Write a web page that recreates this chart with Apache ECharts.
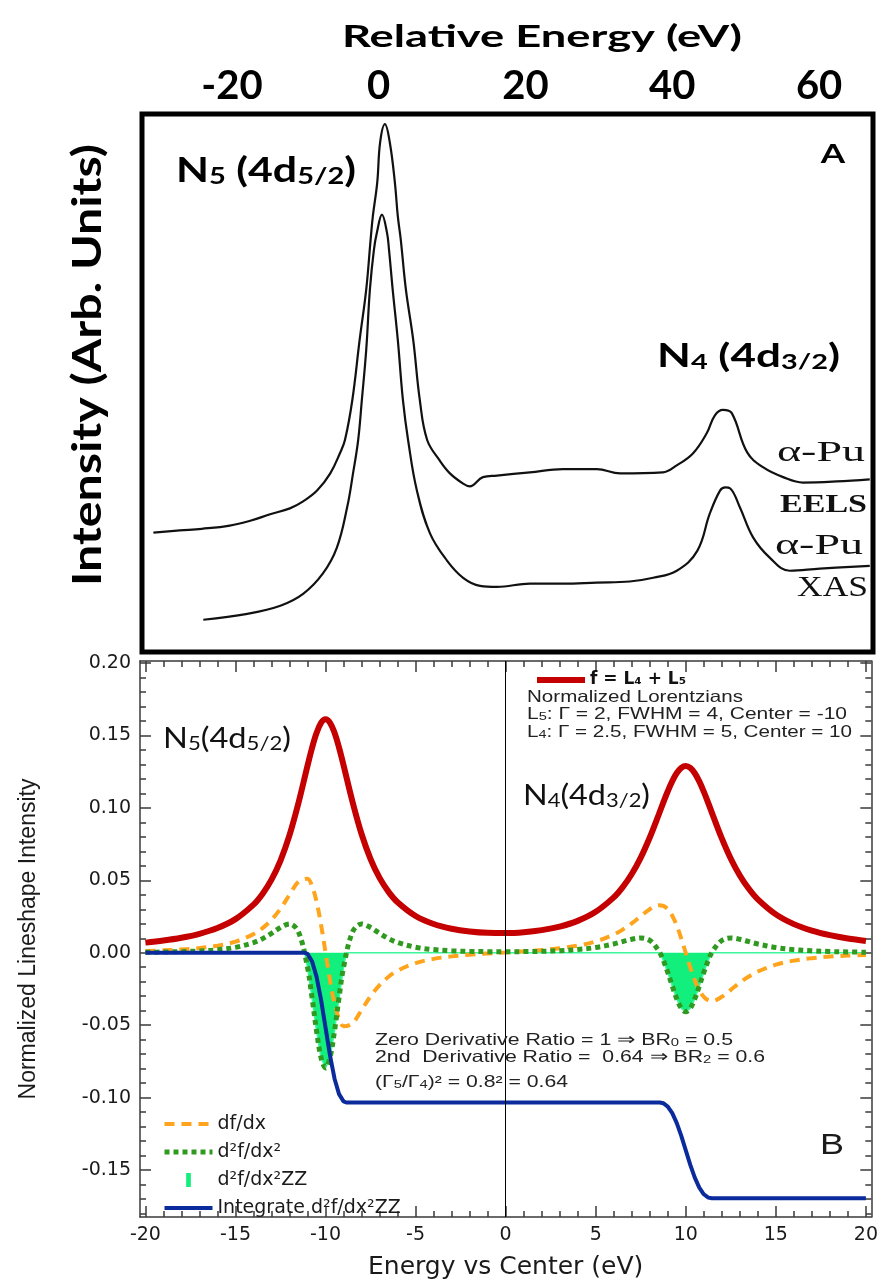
<!DOCTYPE html>
<html><head><meta charset="utf-8">
<script src="https://cdn.jsdelivr.net/npm/echarts@6/dist/echarts.min.js"></script>
<style>html,body{margin:0;padding:0;background:#fff}#c{width:881px;height:1281px}</style>
</head><body><div id="c"></div>
<script>
// ---------- Panel A (experimental spectra, relative energy in eV, arbitrary intensity) ----------
const eelsEnergy = [-30.7,-27.1,-24.1,-20.3,-17.5,-14.8,-12.1,-10.3,-8.4,-6.6,-5.3,-4.6,-3.6,-2.6,-1.7,-1.1,-0.8,-0.2,0.2,0.85,1.5,2.2,2.6,3.0,3.7,4.7,5.6,6.6,8.3,9.7,11.5,12.4,14.2,16.1,20.6,25.1,29.7,32.9,38.7,40.6,42.8,44.7,45.8,46.9,48.1,50.2,52.4,55.1,57.8,62.4,66.9];
const eelsIntensity = [22.2,22.6,22.9,23.5,24.4,25.6,26.7,28.0,30.0,33.2,36.9,39.4,46.8,58.0,67.4,76.7,81.0,87.3,94.8,98.1,94.8,87.3,81.0,76.7,67.4,58.0,46.8,39.4,35.6,33.2,31.3,30.8,32.5,32.8,33.4,34.0,34.0,33.2,33.4,34.7,36.9,40.7,44.0,45.0,44.4,37.1,34.3,32.5,31.5,31.7,32.1];
const xasEnergy = [-23.9,-17.9,-13.4,-10.3,-7.6,-5.7,-4.3,-3.5,-2.8,-2.3,-1.7,-1.2,-0.65,-0.24,0.44,1.12,1.4,1.9,2.6,3.3,4.0,5.2,7.0,9.3,11.5,13.8,16.1,20.6,25.1,29.7,34.2,37.4,40.6,43.4,45.1,46.5,47.2,47.9,49.2,51.0,53.3,56.0,60.1,66.9];
const xasIntensity = [6.0,7.1,8.6,10.8,14.6,19.4,26.9,33.2,39.4,46.8,56.2,67.4,74.8,78.0,81.3,78.0,74.8,67.4,58.0,46.8,39.4,30.0,22.0,17.0,13.8,12.3,12.1,12.7,12.7,12.9,13.1,13.8,15.1,18.8,25.7,30.0,30.6,30.4,26.9,21.3,17.5,15.1,15.5,16.0];
const topTicks = [-20,0,20,40,60];

// ---------- Panel B (model lineshapes) ----------
const energy = [-20,-19,-18,-17,-16,-15,-14,-13.5,-13,-12.5,-12,-11.5,-11,-10.75,-10.5,-10.25,-10,-9.75,-9.5,-9.25,-9,-8.5,-8,-7.5,-7,-6.5,-6,-5,-4,-3,-2,-1,0,1,2,3,4,5,6,6.5,7,7.5,8,8.5,8.75,9,9.25,9.5,9.75,10,10.25,10.5,10.75,11,11.25,11.5,12,12.5,13,13.5,14,15,16,17,18,19,20];
const fSum = [0.00700,0.00843,0.01037,0.01309,0.01708,0.02321,0.03320,0.04060,0.05046,0.06366,
0.08120,0.10356,0.12910,0.14135,0.15166,0.15862,0.16111,0.15872,0.15185,0.14164,
0.12949,0.10414,0.08199,0.06466,0.05167,0.04203,0.03487,0.02539,0.01985,0.01655,
0.01466,0.01374,0.01361,0.01421,0.01563,0.01808,0.02202,0.02825,0.03821,0.04532,
0.05436,0.06571,0.07958,0.09546,0.10365,0.11151,0.11851,0.12408,0.12768,0.12890,
0.12760,0.12393,0.11828,0.11119,0.10326,0.09499,0.07894,0.06491,0.05338,0.04416,
0.03686,0.02648,0.01977,0.01527,0.01214,0.00987,0.00819];
const dfdx = [0.00124,0.00165,0.00227,0.00325,0.00486,0.00767,0.01285,0.01700,0.02273,0.03043,
0.03994,0.04905,0.05110,0.04605,0.03542,0.01947,0.00019,-0.01909,-0.03504,-0.04566,
-0.05071,-0.04865,-0.03953,-0.03001,-0.02229,-0.01654,-0.01236,-0.00712,-0.00423,-0.00250,
-0.00136,-0.00051,0.00023,0.00099,0.00188,0.00310,0.00490,0.00779,0.01256,0.01600,
0.02028,0.02523,0.03008,0.03285,0.03241,0.03010,0.02555,0.01867,0.00982,-0.00016,
-0.01014,-0.01898,-0.02586,-0.03041,-0.03273,-0.03317,-0.03042,-0.02558,-0.02063,-0.01637,
-0.01295,-0.00823,-0.00542,-0.00371,-0.00264,-0.00193,-0.00146];
const d2fdx2 = [0.00034,0.00051,0.00077,0.00124,0.00208,0.00372,0.00702,0.00973,0.01335,0.01746,
0.01991,0.01436,-0.01016,-0.03098,-0.05388,-0.07237,-0.07955,-0.07237,-0.05387,-0.03097,
-0.01015,0.01438,0.01994,0.01749,0.01338,0.00978,0.00707,0.00379,0.00218,0.00137,
0.00096,0.00077,0.00073,0.00080,0.00102,0.00145,0.00224,0.00366,0.00609,0.00772,
0.00936,0.01023,0.00853,0.00133,-0.00519,-0.01355,-0.02294,-0.03185,-0.03834,-0.04072,
-0.03834,-0.03185,-0.02295,-0.01356,-0.00520,0.00131,0.00851,0.01020,0.00933,0.00768,
0.00604,0.00360,0.00216,0.00134,0.00086,0.00057,0.00040];
const zzEnergy = [-20,-11.155,-11,-10.75,-10.5,-10.25,-10,-9.75,-9.5,-9.25,-9,-8.845,8.557,8.75,9,9.25,9.5,9.75,10,10.25,10.5,10.75,11,11.25,11.443,20];
const zzValues = [0,0,-0.01016,-0.03098,-0.05388,-0.07237,-0.07955,-0.07237,-0.05387,-0.03097,-0.01015,0,0,-0.00519,-0.01355,-0.02294,-0.03185,-0.03834,-0.04072,-0.03834,-0.03185,-0.02295,-0.01356,-0.00520,0,0];
const intValues = [0,0,-0.00075,-0.00581,-0.01644,-0.03239,-0.05168,-0.07097,-0.08693,-0.09756,-0.10261,-0.10336,-0.10336,-0.10384,-0.10615,-0.11071,-0.11760,-0.12645,-0.13643,-0.14642,-0.15527,-0.16215,-0.16671,-0.16903,-0.16950,-0.16950];
const xTicks = [-20,-15,-10,-5,0,5,10,15,20];
const yTicks = [-0.15,-0.10,-0.05,0,0.05,0.10,0.15,0.20];
const yMajor = [-0.15,-0.10,-0.05,0,0.05,0.10,0.15,0.20];

// tick positions for minor ticks
const xMinor = []; for (let i = -20; i <= 20; i++) xMinor.push(i);
const yMinor = []; for (let i = -18; i <= 20; i++) yMinor.push(i / 100);

const zip = (xs, ys) => xs.map((x, i) => [x, ys[i]]);

const CAL = 'Lato, "Open Sans", sans-serif';
const SERIF = '"Liberation Serif", "DejaVu Serif", serif';
const ARIAL = '"Liberation Sans", Arial, sans-serif';
const DV = '"DejaVu Sans", sans-serif';

const meas = document.createElement('canvas').getContext('2d');
function textW(parts) { let w = 0; for (const p of parts) { meas.font = p[1]; w += meas.measureText(p[0]).width; } return w; }
function fit(parts, target) { return target / textW(parts); }

function gtext(x, y, text, font, fill, align, scaleX, rich, extra) {
  const el = {
    type: 'text', x: x, y: y, scaleX: scaleX || 1, z: 100,
    style: { text: text, font: font, fill: fill, align: align, textAlign: align, verticalAlign: 'middle', textVerticalAlign: 'middle', rich: rich }
  };
  return Object.assign(el, extra || {});
}

const axLine = { color: '#3a3a3a', width: 1.5 };
const xB = { gridIndex: 1, type: 'value', min: -20.3, max: 20.3, splitLine: { show: false } };
const yB = { gridIndex: 1, type: 'value', min: -0.1824, max: 0.2014, splitLine: { show: false } };

// fonts for annotations
const fA = 'bold 34px ' + CAL, fAs = 'bold 23px ' + CAL;
const fA4 = 'bold 32px ' + CAL, fA4s = 'bold 21px ' + CAL;
const fB = '28px ' + CAL, fBs = '19px ' + CAL;
const fN = '16.5px ' + ARIAL, fNs = '11.5px ' + ARIAL;
const fY = 'bold 40px ' + CAL;

const richA = { s: { font: fAs, fontFamily: CAL, fontWeight: 'bold', fontSize: 23, fill: '#000', verticalAlign: 'bottom', lineHeight: 10 } };
const richA4 = { s: { font: fA4s, fontFamily: CAL, fontWeight: 'bold', fontSize: 21, fill: '#000', verticalAlign: 'bottom', lineHeight: 10 } };
const richB = { s: { font: fBs, fontFamily: CAL, fontSize: 19, fill: '#111', verticalAlign: 'bottom', lineHeight: 10 } };
const richN = { s: { font: fNs, fontFamily: ARIAL, fontSize: 11.5, fill: '#222', verticalAlign: 'bottom', lineHeight: 12 } };

const option = {
  animation: false,
  backgroundColor: '#ffffff',
  grid: [
    { left: 142, right: 8, top: 114, bottom: 629, show: true, borderColor: '#000', borderWidth: 5, backgroundColor: 'transparent' },
    { left: 140, right: 8, top: 661, bottom: 64 }
  ],
  xAxis: [
    { gridIndex: 0, type: 'value', position: 'top', min: -32.25, max: 67.34,
      axisLine: { show: false }, axisTick: { show: false }, splitLine: { show: false },
      axisLabel: { customValues: topTicks, fontFamily: CAL, fontWeight: 'bold', fontSize: 40, color: '#000', margin: 8 } },
    Object.assign({}, xB, { position: 'bottom',
      axisLine: { show: true, onZero: false, lineStyle: axLine },
      axisTick: { show: true, inside: true, length: 6, customValues: xMinor, lineStyle: axLine },
      axisLabel: { customValues: xTicks, fontFamily: DV, fontSize: 19, color: '#1a1a1a', margin: 9 },
      name: 'Energy vs Center (eV)', nameLocation: 'middle', nameGap: 38,
      nameTextStyle: { fontFamily: DV, fontSize: 25, color: '#1a1a1a' } }),
    Object.assign({}, xB, { position: 'bottom', axisLine: { show: false, onZero: false },
      axisTick: { show: true, inside: true, length: 11, customValues: xTicks, lineStyle: axLine }, axisLabel: { show: false } }),
    Object.assign({}, xB, { position: 'top', axisLine: { show: true, onZero: false, lineStyle: axLine },
      axisTick: { show: true, inside: true, length: 6, customValues: xMinor, lineStyle: axLine }, axisLabel: { show: false } }),
    Object.assign({}, xB, { position: 'top', axisLine: { show: false, onZero: false },
      axisTick: { show: true, inside: true, length: 11, customValues: xTicks, lineStyle: axLine }, axisLabel: { show: false } })
  ],
  yAxis: [
    { gridIndex: 0, type: 'value', min: 0, max: 100, show: false },
    Object.assign({}, yB, { position: 'left',
      axisLine: { show: true, onZero: false, lineStyle: axLine },
      axisTick: { show: true, inside: true, length: 6, customValues: yMinor, lineStyle: axLine },
      axisLabel: { customValues: yTicks, formatter: v => v.toFixed(2), fontFamily: DV, fontSize: 19, color: '#1a1a1a', margin: 9 },
      name: 'Normalized Lineshape Intensity', nameLocation: 'middle', nameGap: 100,
      nameTextStyle: { fontFamily: ARIAL, fontSize: 23, color: '#1a1a1a' } }),
    Object.assign({}, yB, { position: 'left', axisLine: { show: false, onZero: false },
      axisTick: { show: true, inside: true, length: 11, customValues: yMajor, lineStyle: axLine }, axisLabel: { show: false } }),
    Object.assign({}, yB, { position: 'right', axisLine: { show: true, onZero: false, lineStyle: axLine },
      axisTick: { show: true, inside: true, length: 6, customValues: yMinor, lineStyle: axLine }, axisLabel: { show: false } }),
    Object.assign({}, yB, { position: 'right', axisLine: { show: false, onZero: false },
      axisTick: { show: true, inside: true, length: 11, customValues: yMajor, lineStyle: axLine }, axisLabel: { show: false } })
  ],
  legend: [
    { orient: 'vertical', left: 529, top: 666, itemWidth: 48, itemHeight: 14, selectedMode: false,
      data: ['f'],
      formatter: () => 'f = L₄ + L₅',
      lineStyle: { width: 'inherit' }, itemStyle: { opacity: 0 },
      textStyle: { fontFamily: DV, fontSize: 17, fontWeight: 'bold', color: '#111', lineHeight: 18 } },
    { orient: 'vertical', left: 157, top: 1109, itemWidth: 48, itemHeight: 14, itemGap: 8, selectedMode: false,
      lineStyle: { width: 'inherit' }, itemStyle: { opacity: 0 },
      data: ['df/dx', 'd²f/dx²', { name: 'd²f/dx²ZZ', icon: 'path://M0,0L4,0L4,12L0,12Z', itemStyle: { color: '#12ef7c', opacity: 1 } }, 'Integrate d²f/dx²ZZ'],
      textStyle: { fontFamily: DV, fontSize: 19, color: '#1a1a1a', lineHeight: 20 } }
  ],
  series: [
    { name: 'EELS α-Pu', type: 'line', xAxisIndex: 0, yAxisIndex: 0, data: zip(eelsEnergy, eelsIntensity),
      smooth: 0.4, symbol: 'none', silent: true, lineStyle: { color: '#111', width: 2.2 } },
    { name: 'XAS α-Pu', type: 'line', xAxisIndex: 0, yAxisIndex: 0, data: zip(xasEnergy, xasIntensity),
      smooth: 0.4, symbol: 'none', silent: true, lineStyle: { color: '#111', width: 2.2 } },
    { name: 'd²f/dx²ZZ', type: 'line', xAxisIndex: 1, yAxisIndex: 1, data: zip(zzEnergy, zzValues),
      symbol: 'none', silent: true, lineStyle: { color: '#3df59b', width: 1.5 }, itemStyle: { color: '#12ef7c' },
      areaStyle: { color: '#12ef7c', opacity: 1, origin: 0 } },
    { name: 'f', type: 'line', xAxisIndex: 1, yAxisIndex: 1, data: zip(energy, fSum),
      smooth: 0.35, symbol: 'none', silent: true, lineStyle: { color: '#c40000', width: 6 }, itemStyle: { color: '#c40000' },
      markLine: { silent: true, symbol: ['none', 'none'], label: { show: false },
        lineStyle: { color: '#000', width: 1, type: 'solid' }, data: [{ xAxis: 0 }] } },
    { name: 'df/dx', type: 'line', xAxisIndex: 1, yAxisIndex: 1, data: zip(energy, dfdx),
      smooth: 0.35, symbol: 'none', silent: true, lineStyle: { color: '#ffa41c', width: 4, type: [10, 7] }, itemStyle: { color: '#ffa41c' } },
    { name: 'd²f/dx²', type: 'line', xAxisIndex: 1, yAxisIndex: 1, data: zip(energy, d2fdx2),
      smooth: 0.35, symbol: 'none', silent: true, lineStyle: { color: '#2f9a1f', width: 5, type: [5, 4] }, itemStyle: { color: '#2f9a1f' } },
    { name: 'Integrate d²f/dx²ZZ', type: 'line', xAxisIndex: 1, yAxisIndex: 1, data: zip(zzEnergy, intValues),
      symbol: 'none', silent: true, lineStyle: { color: '#0b2a9c', width: 4 }, itemStyle: { color: '#0b2a9c' } }
  ],
  graphic: [
    // Panel A texts
    gtext(542, 37, 'Relative Energy (eV)', 'bold 31px ' + CAL, '#000', 'center', fit([['Relative Energy (eV)', 'bold 31px ' + CAL]], 400)),
    gtext(88, 365, 'Intensity (Arb. Units)', fY, '#000', 'center', fit([['Intensity (Arb. Units)', fY]], 442), null, { rotation: Math.PI / 2 }),
    gtext(176, 171, 'N{s|5} (4d{s|5/2})', fA, '#000', 'left', fit([['N (4d)', fA], ['55/2', fAs]], 180), richA),
    gtext(657, 357, 'N{s|4} (4d{s|3/2})', fA4, '#000', 'left', fit([['N (4d)', fA4], ['43/2', fA4s]], 183), richA4),
    gtext(833, 155, 'A', 'bold 26px ' + CAL, '#000', 'center', 1.35),
    gtext(777, 453, 'α-Pu', '30px ' + SERIF, '#111', 'left', fit([['α-Pu', '30px ' + SERIF]], 88)),
    gtext(780, 505, 'EELS', 'bold 26px ' + SERIF, '#111', 'left', fit([['EELS', 'bold 26px ' + SERIF]], 87)),
    gtext(775, 546, 'α-Pu', '30px ' + SERIF, '#111', 'left', fit([['α-Pu', '30px ' + SERIF]], 88)),
    gtext(797, 588, 'XAS', '30px ' + SERIF, '#111', 'left', fit([['XAS', '30px ' + SERIF]], 71)),
    // Panel B texts
    gtext(163, 739, 'N{s|5}(4d{s|5/2})', fB, '#111', 'left', fit([['N(4d)', fB], ['55/2', fBs]], 128), richB),
    gtext(523, 796, 'N{s|4}(4d{s|3/2})', fB, '#111', 'left', fit([['N(4d)', fB], ['43/2', fBs]], 127), richB),
    gtext(527, 697, 'Normalized Lorentzians', fN, '#222', 'left', fit([['Normalized Lorentzians', fN]], 216)),
    gtext(527, 714, 'L{s|5}: Γ = 2, FWHM = 4, Center = -10', fN, '#222', 'left', fit([['L: Γ = 2, FWHM = 4, Center = -10', fN], ['5', fNs]], 320), richN),
    gtext(527, 732, 'L{s|4}: Γ = 2.5, FWHM = 5, Center = 10', fN, '#222', 'left', fit([['L: Γ = 2.5, FWHM = 5, Center = 10', fN], ['4', fNs]], 325), richN),
    gtext(375, 1040, 'Zero Derivative Ratio = 1 ⇒ BR{s|0} = 0.5', fN, '#222', 'left', fit([['Zero Derivative Ratio = 1 ⇒ BR = 0.5', fN], ['0', fNs]], 358), richN),
    gtext(375, 1057, '2nd  Derivative Ratio =  0.64 ⇒ BR{s|2} = 0.6', fN, '#222', 'left', fit([['2nd  Derivative Ratio =  0.64 ⇒ BR = 0.6', fN], ['2', fNs]], 390), richN),
    gtext(375, 1082, '(Γ{s|5}/Γ{s|4})² = 0.8² = 0.64', fN, '#222', 'left', fit([['(Γ/Γ)² = 0.8² = 0.64', fN], ['54', fNs]], 193), richN),
    gtext(832, 1146, 'B', '30px ' + ARIAL, '#1a1a1a', 'center', 1.2)
  ]
};

const chart = echarts.init(document.getElementById('c'), null, { renderer: 'canvas', width: 881, height: 1281 });
chart.setOption(option);
</script>
</body></html>
